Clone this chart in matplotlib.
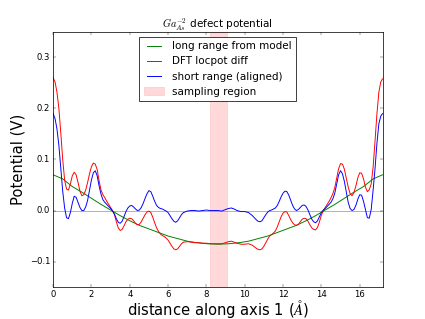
import numpy as np
import matplotlib
matplotlib.use('Agg')
import matplotlib.pyplot as plt

# sampled along axis 1 (Angstrom)
distance = [
    0.00, 0.10, 0.20, 0.30, 0.40, 0.50, 0.60, 0.70, 0.80, 0.90,
    1.00, 1.10, 1.20, 1.30, 1.40, 1.50, 1.60, 1.70, 1.80, 1.90,
    2.00, 2.10, 2.20, 2.30, 2.40, 2.50, 2.60, 2.70, 2.80, 2.90,
    3.00, 3.10, 3.20, 3.30, 3.40, 3.50, 3.60, 3.70, 3.80, 3.90,
    4.00, 4.10, 4.20, 4.30, 4.40, 4.50, 4.60, 4.70, 4.80, 4.90,
    5.00, 5.10, 5.20, 5.30, 5.40, 5.50, 5.60, 5.70, 5.80, 5.90,
    6.00, 6.10, 6.20, 6.30, 6.40, 6.50, 6.60, 6.70, 6.80, 7.00,
    7.20, 7.40, 7.60, 7.80, 8.00, 8.20, 8.40, 8.60, 8.80, 9.00,
    9.15, 9.30, 9.45, 9.60, 9.80, 10.00, 10.20, 10.40, 10.50, 10.60,
    10.70, 10.80, 10.90, 11.00, 11.10, 11.20, 11.30, 11.40, 11.50, 11.60,
    11.70, 11.80, 11.90, 12.00, 12.10, 12.20, 12.30, 12.40, 12.50, 12.60,
    12.70, 12.80, 12.90, 13.00, 13.10, 13.20, 13.30, 13.40, 13.50, 13.60,
    13.70, 13.80, 13.90, 14.00, 14.10, 14.20, 14.30, 14.40, 14.50, 14.60,
    14.70, 14.80, 14.90, 15.00, 15.10, 15.20, 15.30, 15.40, 15.50, 15.60,
    15.70, 15.80, 15.90, 16.00, 16.10, 16.20, 16.30, 16.40, 16.50, 16.60,
    16.70, 16.80, 16.90, 17.00, 17.10, 17.19,
]

dft_diff = [
    0.260, 0.252, 0.232, 0.200, 0.152, 0.100, 0.060, 0.042, 0.040, 0.052,
    0.068, 0.075, 0.070, 0.055, 0.038, 0.029, 0.031, 0.040, 0.055, 0.072,
    0.086, 0.093, 0.091, 0.080, 0.058, 0.040, 0.031, 0.025, 0.018, 0.012,
    0.006, 0.000, -0.008, -0.022, -0.034, -0.039, -0.037, -0.030, -0.022, -0.017,
    -0.015, -0.016, -0.020, -0.025, -0.028, -0.027, -0.022, -0.015, -0.008, -0.003,
    -0.001, -0.004, -0.013, -0.024, -0.034, -0.041, -0.046, -0.049, -0.051, -0.054,
    -0.058, -0.064, -0.070, -0.075, -0.077, -0.075, -0.070, -0.065, -0.062, -0.061,
    -0.062, -0.063, -0.063, -0.064, -0.064, -0.065, -0.065, -0.065, -0.065, -0.063,
    -0.061, -0.060, -0.062, -0.064, -0.066, -0.066, -0.065, -0.068, -0.071, -0.074,
    -0.076, -0.077, -0.075, -0.070, -0.063, -0.056, -0.050, -0.047, -0.044, -0.040,
    -0.032, -0.022, -0.012, -0.005, -0.002, -0.003, -0.010, -0.018, -0.024, -0.028,
    -0.029, -0.027, -0.022, -0.017, -0.015, -0.016, -0.021, -0.028, -0.034, -0.037,
    -0.038, -0.033, -0.022, -0.009, 0.000, 0.006, 0.012, 0.018, 0.025, 0.033,
    0.045, 0.064, 0.082, 0.092, 0.091, 0.081, 0.064, 0.046, 0.033, 0.029,
    0.035, 0.048, 0.064, 0.074, 0.073, 0.062, 0.046, 0.037, 0.041, 0.052,
    0.085, 0.136, 0.190, 0.232, 0.252, 0.258,
]

short_range = [
    0.190, 0.180, 0.160, 0.128, 0.082, 0.038, 0.005, -0.014, -0.016, -0.004,
    0.014, 0.028, 0.026, 0.016, 0.006, 0.000, 0.000, 0.007, 0.020, 0.040,
    0.060, 0.074, 0.078, 0.068, 0.048, 0.032, 0.021, 0.016, 0.012, 0.008,
    0.004, -0.001, -0.007, -0.016, -0.023, -0.025, -0.021, -0.012, -0.002, 0.005,
    0.009, 0.010, 0.007, 0.003, 0.000, 0.001, 0.006, 0.014, 0.024, 0.033,
    0.039, 0.037, 0.028, 0.018, 0.010, 0.006, 0.004, 0.003, 0.001, -0.001,
    -0.004, -0.010, -0.016, -0.021, -0.023, -0.020, -0.014, -0.008, -0.004, -0.001,
    0.000, 0.000, -0.001, 0.000, 0.001, 0.000, 0.000, 0.000, -0.001, 0.002,
    0.004, 0.005, 0.003, 0.000, -0.002, -0.002, -0.004, -0.010, -0.014, -0.018,
    -0.021, -0.022, -0.020, -0.014, -0.008, -0.003, 0.000, 0.001, 0.003, 0.005,
    0.010, 0.018, 0.027, 0.034, 0.038, 0.037, 0.030, 0.020, 0.010, 0.003,
    0.000, 0.002, 0.006, 0.010, 0.011, 0.008, 0.001, -0.008, -0.017, -0.022,
    -0.024, -0.020, -0.012, -0.004, 0.001, 0.004, 0.008, 0.012, 0.016, 0.023,
    0.034, 0.052, 0.070, 0.078, 0.072, 0.057, 0.036, 0.016, 0.004, 0.000,
    0.002, 0.010, 0.022, 0.031, 0.030, 0.018, 0.002, -0.014, -0.015, 0.002,
    0.040, 0.082, 0.132, 0.170, 0.185, 0.190,
]

# long range model is smooth, read on a coarser grid
distance_lr = [
    0.0, 0.5, 1.0, 1.5, 2.0, 2.5, 3.0, 3.5, 4.0, 4.5, 5.0, 5.5, 6.0, 6.5,
    7.0, 7.5, 8.0, 8.6, 9.2, 9.7, 10.2, 10.7, 11.2, 11.7, 12.2, 12.7, 13.2,
    13.7, 14.2, 14.7, 15.2, 15.7, 16.2, 16.7, 17.19,
]
long_range = [
    0.070, 0.062, 0.047, 0.036, 0.024, 0.012, 0.001, -0.010, -0.020, -0.029,
    -0.036, -0.043, -0.050, -0.055, -0.060, -0.063, -0.065, -0.066, -0.065,
    -0.063, -0.060, -0.055, -0.050, -0.043, -0.036, -0.029, -0.020, -0.010,
    0.001, 0.012, 0.024, 0.036, 0.047, 0.062, 0.070,
]

sampling_region = [8.17, 9.05]

plt.style.use('classic')
plt.rcParams['figure.facecolor'] = 'white'

fig = plt.figure(figsize=(8, 319 / 53.125), dpi=53.125)
ax = fig.add_subplot(111)

span = ax.axvspan(sampling_region[0], sampling_region[1], color='r', alpha=0.15,
                  label='sampling region')
ax.axhline(0, color='0.6', lw=1.0)
l1, = ax.plot(distance_lr, long_range, color='g', lw=1.3, label='long range from model')
l2, = ax.plot(distance, dft_diff, color='r', lw=1.3, label='DFT locpot diff')
l3, = ax.plot(distance, short_range, color='b', lw=1.3, label='short range (aligned)')

ax.set_xlim(0, 17.19)
ax.set_ylim(-0.15, 0.35)
ax.tick_params(labelsize=11.5)
ax.set_xlabel(r'distance along axis 1 ($\AA$)', fontsize=20, labelpad=-2)
ax.set_ylabel('Potential (V)', fontsize=20)
ax.set_title(r'$Ga_{As}^{-2}$ defect potential', fontsize=14)
ax.legend(handles=[l1, l2, l3, span], loc='upper center', fontsize=14)

fig.savefig('out.png', dpi=53.125)
